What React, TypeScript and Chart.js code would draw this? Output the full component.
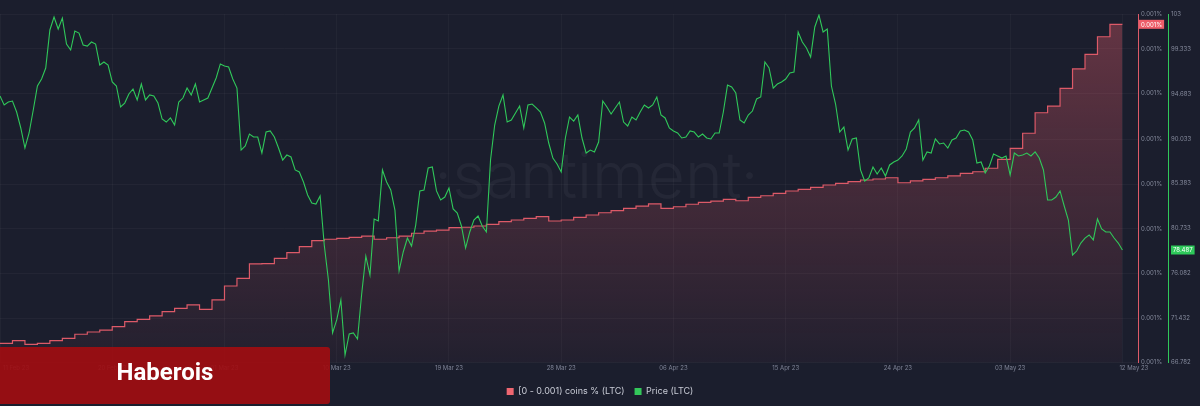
import React, { useEffect, useRef } from "react";
import { Chart, registerables } from "chart.js";

Chart.register(...registerables);

// ---- data ----
// x axis: days since 11 Feb 23
const xTickDays = [0, 9, 18, 27, 36, 45, 54, 63, 72, 81, 90];
const xTickLabels = [
  "11 Feb 23", "20 Feb 23", "01 Mar 23", "10 Mar 23", "19 Mar 23", "28 Mar 23",
  "06 Apr 23", "15 Apr 23", "24 Apr 23", "03 May 23", "12 May 23",
];
const priceTicks = [66.782, 71.432, 76.082, 80.733, 85.383, 90.033, 94.683, 99.333, 103];
const holderTicks = [0.00085, 0.000882, 0.000914, 0.000946, 0.000978, 0.00101, 0.001043, 0.001075, 0.0011];

// LTC price, one value every 8 hours from 11 Feb 23
const priceValues = [
  94.48, 93.55, 93.86, 93.96, 92.82, 91.16, 89.08, 90.64, 93.03, 95.52,
  96.25, 97.39, 101.34, 102.69, 101.44, 102.58, 99.88, 99.26, 101.23, 101.02,
  99.78, 99.67, 100.09, 99.88, 97.7, 98.01, 97.7, 95.94, 95.52, 93.34,
  93.75, 94.69, 95.21, 94.07, 95.73, 94.07, 94.59, 94.48, 93.75, 92.09,
  91.78, 92.2, 91.47, 93.86, 94.27, 95.31, 94.59, 95.73, 93.86, 94.07,
  94.27, 95.31, 96.35, 97.81, 97.6, 97.49, 96.25, 95.31, 88.87, 89.29,
  90.53, 90.22, 90.22, 88.56, 90.74, 90.85, 90.22, 89.08, 87.83, 88.35,
  88.15, 86.8, 86.59, 85.55, 84.2, 83.37, 83.26, 84.1, 79.01, 75.37,
  69.87, 71.22, 73.29, 67.58, 69.76, 69.87, 69.24, 73.92, 77.86, 75.89,
  81.71, 81.5, 86.8, 85.55, 84.72, 82.64, 76.31, 78.28, 79.73, 78.9,
  81.08, 84.62, 84.72, 87.0, 87.11, 84.62, 83.68, 83.99, 84.93, 82.75,
  82.33, 80.98, 78.69, 80.36, 81.6, 82.02, 80.98, 80.36, 87.83, 91.47,
  93.44, 94.59, 91.78, 91.99, 92.72, 93.44, 91.16, 93.55, 93.65, 93.24,
  92.82, 91.68, 89.6, 88.04, 87.42, 86.59, 90.12, 92.3, 91.88, 92.51,
  90.12, 88.56, 88.87, 88.67, 89.7, 93.96, 93.34, 92.61, 93.24, 93.86,
  91.78, 91.37, 92.3, 91.99, 92.82, 93.55, 93.24, 93.55, 94.38, 92.51,
  92.2, 91.16, 90.85, 90.64, 90.12, 90.22, 90.85, 90.74, 90.22, 90.53,
  90.12, 90.02, 90.64, 90.64, 92.82, 95.62, 95.42, 94.79, 91.99, 91.68,
  92.51, 92.92, 94.17, 94.38, 98.01, 97.39, 95.31, 95.73, 95.94, 96.25,
  96.87, 96.97, 101.13, 100.09, 99.47, 98.53, 101.65, 102.89, 101.13, 101.44,
  95.52, 93.65, 90.74, 91.26, 88.87, 90.02, 90.12, 86.8, 85.65, 85.97,
  87.11, 86.38, 87.0, 86.17, 87.32, 87.63, 87.83, 88.25, 88.98, 90.74,
  91.16, 91.99, 87.83, 88.67, 88.56, 90.02, 89.5, 89.6, 89.08, 89.91,
  90.12, 90.85, 90.95, 90.74, 89.91, 87.52, 87.63, 86.48, 87.21, 88.46,
  88.25, 88.04, 88.25, 86.28, 88.56, 88.25, 88.35, 88.56, 88.25, 88.67,
  88.04, 86.8, 83.68, 83.68, 83.99, 84.62, 83.06, 81.6, 77.97, 78.38,
  79.21, 79.73, 80.05, 79.53, 81.71, 80.67, 80.36, 80.36, 79.73, 79.21,
  78.487,
];

// share of supply in [0 - 0.001) coin addresses, %, one value per day from 11 Feb 23
const holderValues = [
  0.0008639, 0.0008658, 0.0008632, 0.0008639, 0.0008658, 0.0008675, 0.0008704, 0.000872, 0.0008734, 0.0008758,
  0.0008794, 0.0008811, 0.0008835, 0.0008866, 0.000889, 0.0008914, 0.0008883, 0.000895, 0.000905, 0.0009105,
  0.0009208, 0.000921, 0.0009248, 0.0009289, 0.0009332, 0.0009375, 0.0009385, 0.0009392, 0.0009399, 0.0009408,
  0.0009385, 0.0009396, 0.0009408, 0.0009428, 0.0009444, 0.0009451, 0.0009468, 0.0009471, 0.000948, 0.0009492,
  0.0009511, 0.0009523, 0.0009535, 0.0009547, 0.0009516, 0.0009523, 0.0009542, 0.0009559, 0.0009575, 0.000959,
  0.0009607, 0.0009623, 0.0009638, 0.0009607, 0.0009618, 0.0009636, 0.000965, 0.0009659, 0.0009671, 0.0009661,
  0.0009686, 0.0009697, 0.0009714, 0.0009731, 0.0009743, 0.0009757, 0.0009774, 0.0009786, 0.0009798, 0.000981,
  0.0009817, 0.0009826, 0.000979, 0.0009803, 0.0009815, 0.0009826, 0.0009839, 0.0009858, 0.0009869, 0.0009894,
  0.0009958, 0.0010037, 0.0010145, 0.0010292, 0.001034, 0.0010467, 0.0010606, 0.0010711, 0.0010837, 0.0010926,
  0.0010926,
];

const seriesLabels = ["[0 - 0.001) coins % (LTC)", "Price (LTC)"];

// ---- styles ----
const BG = "#1b1e2d";
const RED = "#dd5a68";
const GREEN = "#30c85a";
const AXIS_TEXT = "#858a9c";
const FONT = "Inter, 'Noto Sans', sans-serif";

function drawTag(ctx: CanvasRenderingContext2D, text: string, x: number, y: number, bg: string) {
  ctx.font = `6px ${FONT}`;
  const w = ctx.measureText(text).width;
  ctx.fillStyle = bg;
  ctx.fillRect(x, y - 4.5, w + 4, 9);
  ctx.fillStyle = "#ffffff";
  ctx.textAlign = "left";
  ctx.textBaseline = "middle";
  ctx.fillText(text, x + 2, y + 0.5);
}

const overlayPlugin = {
  id: "overlay",
  beforeDatasetsDraw(chart: any) {
    const { ctx, chartArea } = chart;
    ctx.save();
    ctx.font = `300 64px ${FONT}`;
    ctx.fillStyle = "rgba(255,255,255,0.045)";
    ctx.textAlign = "center";
    ctx.textBaseline = "alphabetic";
    ctx.fillText(
      "·santiment·",
      chartArea.left + chartArea.width * 0.524,
      chartArea.top + chartArea.height * 0.528
    );
    ctx.restore();
  },
  afterDraw(chart: any) {
    const { ctx, chartArea, scales } = chart;
    ctx.save();
    // x labels
    ctx.font = `6px ${FONT}`;
    ctx.fillStyle = "#7f8497";
    ctx.textBaseline = "middle";
    xTickDays.forEach((d, i) => {
      const px = scales.x.getPixelForValue(d);
      let x = px;
      let align: CanvasTextAlign = "center";
      if (i === 0) { align = "left"; x = px + 3; }
      else if (i === xTickDays.length - 1) { align = "left"; x = px - 3; }
      ctx.textAlign = align;
      ctx.fillText(xTickLabels[i], x, chartArea.bottom + 5.5);
    });
    // last value tags
    const lastHolder = holderValues[holderValues.length - 1];
    const lastPrice = priceValues[priceValues.length - 1];
    drawTag(ctx, lastHolder.toFixed(3) + "%", scales.y.left + 1, scales.y.getPixelForValue(lastHolder), "#ee5d69");
    drawTag(ctx, String(lastPrice), scales.y1.left + 3, scales.y1.getPixelForValue(lastPrice), "#2ec95a");
    ctx.restore();
  },
};

export default function App() {
  const ref = useRef<HTMLCanvasElement>(null);

  useEffect(() => {
    document.body.style.margin = "0";
    const canvas = ref.current!;
    const chart = new Chart(canvas, {
      type: "line",
      data: {
        datasets: [
          {
            label: seriesLabels[0],
            data: holderValues.map((v, i) => ({ x: i, y: v })),
            yAxisID: "y",
            stepped: "before",
            borderColor: RED,
            borderWidth: 1.2,
            pointRadius: 0,
            fill: "start",
            order: 1,
            backgroundColor: (c: any) => {
              const area = c.chart.chartArea;
              if (!area) return "rgba(221,90,104,0.15)";
              const g = c.chart.ctx.createLinearGradient(0, area.top, 0, area.bottom);
              g.addColorStop(0, "rgba(221,90,104,0.38)");
              g.addColorStop(1, "rgba(221,90,104,0.04)");
              return g;
            },
          },
          {
            label: seriesLabels[1],
            data: priceValues.map((v, i) => ({ x: i / 3, y: v })),
            yAxisID: "y1",
            borderColor: GREEN,
            borderWidth: 1.1,
            pointRadius: 0,
            tension: 0,
            fill: false,
            order: 0,
          },
        ],
      },
      options: {
        animation: false,
        responsive: false,
        events: [],
        layout: { padding: { top: 14, left: 0, right: 0, bottom: 0 } },
        scales: {
          x: {
            type: "linear",
            min: 0,
            max: 91.25,
            afterBuildTicks: (s: any) => { s.ticks = xTickDays.map((v) => ({ value: v })); },
            afterFit: (s: any) => { s.height = 14.3; },
            ticks: { display: false },
            grid: { color: "rgba(255,255,255,0.03)", drawTicks: false },
            border: { display: false },
          },
          y: {
            type: "linear",
            position: "right",
            min: holderTicks[0],
            max: holderTicks[holderTicks.length - 1],
            afterBuildTicks: (s: any) => { s.ticks = holderTicks.map((v) => ({ value: v })); },
            afterFit: (s: any) => { s.width = 30; },
            grid: { color: "rgba(255,255,255,0.035)", drawTicks: false },
            border: { color: RED, width: 1 },
            ticks: {
              autoSkip: false,
              color: AXIS_TEXT,
              padding: 3,
              font: { size: 6, family: FONT },
              callback: (v: any) => Number(v).toFixed(3) + "%",
            },
          },
          y1: {
            type: "linear",
            position: "right",
            min: priceTicks[0],
            max: priceTicks[priceTicks.length - 1],
            afterBuildTicks: (s: any) => { s.ticks = priceTicks.map((v) => ({ value: v })); },
            afterFit: (s: any) => { s.width = 32; },
            grid: { drawOnChartArea: false, drawTicks: false },
            border: { color: GREEN, width: 1 },
            ticks: {
              autoSkip: false,
              color: AXIS_TEXT,
              padding: 3,
              font: { size: 6, family: FONT },
              callback: (v: any) => String(v),
            },
          },
        },
        plugins: {
          tooltip: { enabled: false },
          legend: {
            display: true,
            position: "bottom",
            labels: {
              boxWidth: 7,
              boxHeight: 7,
              padding: 10,
              color: "#c9ccd6",
              font: { size: 9, family: FONT },
              generateLabels: () =>
                seriesLabels.map((t, i) => ({
                  text: t,
                  fillStyle: i === 0 ? "#ee6670" : "#33c85a",
                  strokeStyle: i === 0 ? "#ee6670" : "#33c85a",
                  lineWidth: 0,
                  hidden: false,
                  datasetIndex: i,
                  fontColor: "#c9ccd6",
                })),
            },
          },
        },
      },
      plugins: [overlayPlugin],
    } as any);
    return () => chart.destroy();
  }, []);

  return (
    <div style={{ position: "fixed", left: 0, top: 0, width: 1200, height: 406, background: BG, overflow: "hidden" }}>
      <canvas ref={ref} width={1200} height={406} style={{ display: "block", width: 1200, height: 406 }} />
      <div
        style={{
          position: "absolute",
          left: 0,
          top: 347,
          width: 330,
          height: 57,
          boxSizing: "border-box",
          paddingBottom: 7,
          background: "rgba(160,13,17,0.92)",
          borderRadius: "0 3px 3px 0",
          color: "#ffffff",
          fontFamily: "Roboto, sans-serif",
          fontWeight: 700,
          fontSize: 24,
          display: "flex",
          alignItems: "center",
          justifyContent: "center",
        }}
      >
        Haberois
      </div>
    </div>
  );
}
